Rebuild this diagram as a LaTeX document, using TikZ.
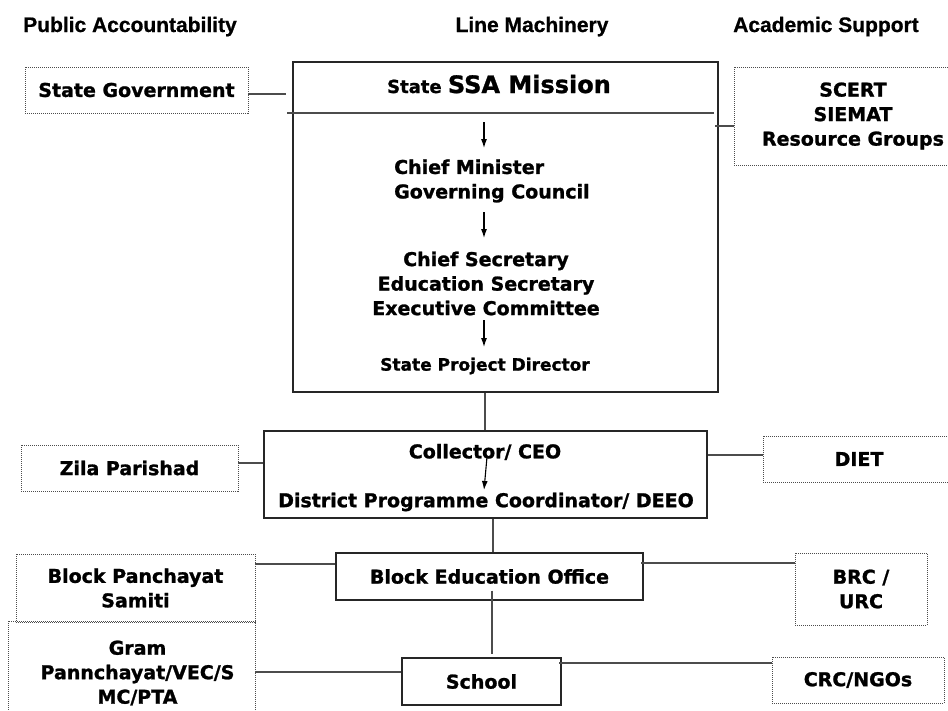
\documentclass[tikz,border=0pt]{standalone}
\usepackage{fontspec}
\setmainfont{DejaVu Sans}[BoldFeatures={FakeBold=1.2}]
\newfontfamily\hdrfont{Liberation Sans}[BoldFeatures={FakeBold=0.8}]
\usetikzlibrary{arrows.meta}
\begin{document}
\begin{tikzpicture}[x=1pt,y=-1pt,
 txt/.style={font=\fontsize{19}{24.5}\selectfont\bfseries, align=center, inner sep=0pt},
 solidbox/.style={txt, draw=black!85, line width=1.3pt},
 dotbox/.style={txt, draw=black!70, line width=0.9pt, dash pattern=on 1pt off 1pt},
 conn/.style={draw=black!70, line width=1.2pt},
 arr/.style={draw=black, line width=1.1pt, -{Latex[length=9pt,width=6pt]}},
 hdr/.style={font=\fontsize{21}{24}\selectfont\hdrfont\bfseries, inner sep=0pt, anchor=base}]

\useasboundingbox (0,0) rectangle (948,710);
\clip (0,0) rectangle (948,710);
\fill[white] (0,0) rectangle (948,710);

% headers
\node[hdr] (h1) at (130,32) {Public Accountability};
\node[hdr] (h2) at (532,32) {Line Machinery};
\node[hdr] (h3) at (826,32) {Academic Support};

% state level
\node[draw=black!85, line width=1.3pt, minimum width=425pt, minimum height=330pt, inner sep=0pt] (main) at (505.5,227) {};
\coordinate (divL) at (287,113);
\coordinate (divR) at (714,113);
\draw[conn] (divL) -- (divR);
\node[txt, anchor=base] (title) at (499,93) {\fontsize{18}{20}\selectfont State \fontsize{24}{26}\selectfont SSA Mission};
\node[txt, align=left, anchor=west] (cm) at (394,181) {Chief Minister\\Governing Council};
\node[txt] (cs) at (486,283.5) {Chief Secretary\\Education Secretary\\Executive Committee};
\node[txt, font=\fontsize{17}{20}\selectfont\bfseries] (spd) at (485,366) {State Project Director};

\coordinate (a1s) at (484,122); \coordinate (a1e) at (484,148);
\coordinate (a2s) at (484,212); \coordinate (a2e) at (484,238);
\coordinate (a3s) at (484,320); \coordinate (a3e) at (484,347);
\draw[arr] (a1s) -- (a1e);
\draw[arr] (a2s) -- (a2e);
\draw[arr] (a3s) -- (a3e);

\node[dotbox, minimum width=223pt, minimum height=46pt] (sg) at (136.5,90) {State Government};
\node[dotbox, minimum width=238pt, minimum height=98pt] (scert) at (853,116) {SCERT\\SIEMAT\\Resource Groups};
\draw[conn] ([yshift=-4pt]sg.east) -- ([yshift=-4pt,xshift=-6pt]sg.east -| main.west);
\draw[conn] ([yshift=-10pt]scert.west) -- ([yshift=-10pt,xshift=-4pt]scert.west -| main.east);

% district level
\node[solidbox, minimum width=443pt, minimum height=87pt] (dist) at (485.5,474.5) {};
\node[txt] (coll) at (485,452) {Collector/ CEO};
\node[txt] (dpc) at (486,502) {District Programme Coordinator/ DEEO};
\coordinate (a4s) at (487,457); \coordinate (a4e) at (484,490);
\draw[arr] (a4s) -- (a4e);
\draw[conn] (spd |- main.south) -- (spd |- dist.north);

\node[dotbox, minimum width=217pt, minimum height=46pt] (zila) at (129.5,468) {Zila Parishad};
\node[dotbox, minimum width=192pt, minimum height=46pt] (diet) at (859,459) {DIET};
\draw[conn] ([yshift=5pt]zila.east) -- ([yshift=5pt]zila.east -| dist.west);
\draw[conn] ([yshift=4pt]diet.west) -- ([yshift=4pt]diet.west -| dist.east);

% block level
\node[solidbox, minimum width=307pt, minimum height=47pt] (beo) at (489.5,576.5) {Block Education Office};
\draw[conn] ([xshift=3.5pt]beo.north) -- ([xshift=3.5pt]beo.north |- dist.south);
\node[dotbox, minimum width=239pt, minimum height=68pt] (bp) at (135.5,588) {Block Panchayat\\Samiti};
\node[dotbox, minimum width=132pt, minimum height=72pt] (brc) at (861,589) {BRC /\\URC};
\draw[conn] ([yshift=24pt]bp.east) -- ([yshift=24pt]bp.east -| beo.west);
\draw[conn] ([yshift=26pt]brc.west) -- ([yshift=26pt,xshift=-3pt]brc.west -| beo.east);

% school level
\node[dotbox, minimum width=247pt, minimum height=104pt] (gram) at (131.5,673) {\hspace*{12pt}Gram\\\hspace*{12pt}Pannchayat/VEC/S\\\hspace*{12pt}MC/PTA};
\node[solidbox, minimum width=159pt, minimum height=47pt] (school) at (481.5,681.5) {School};
\node[dotbox, minimum width=172pt, minimum height=46pt] (crc) at (858,680) {CRC/NGOs};
\draw[conn] ([xshift=2.5pt,yshift=10pt]beo.south) -- ([xshift=10.5pt,yshift=3pt]school.north);
\draw[conn] ([yshift=1pt]gram.east) -- ([yshift=1pt]gram.east -| school.west);
\draw[conn] ([yshift=17pt]crc.west) -- ([yshift=17pt,xshift=-3pt]crc.west -| school.east);
\end{tikzpicture}
\end{document}
